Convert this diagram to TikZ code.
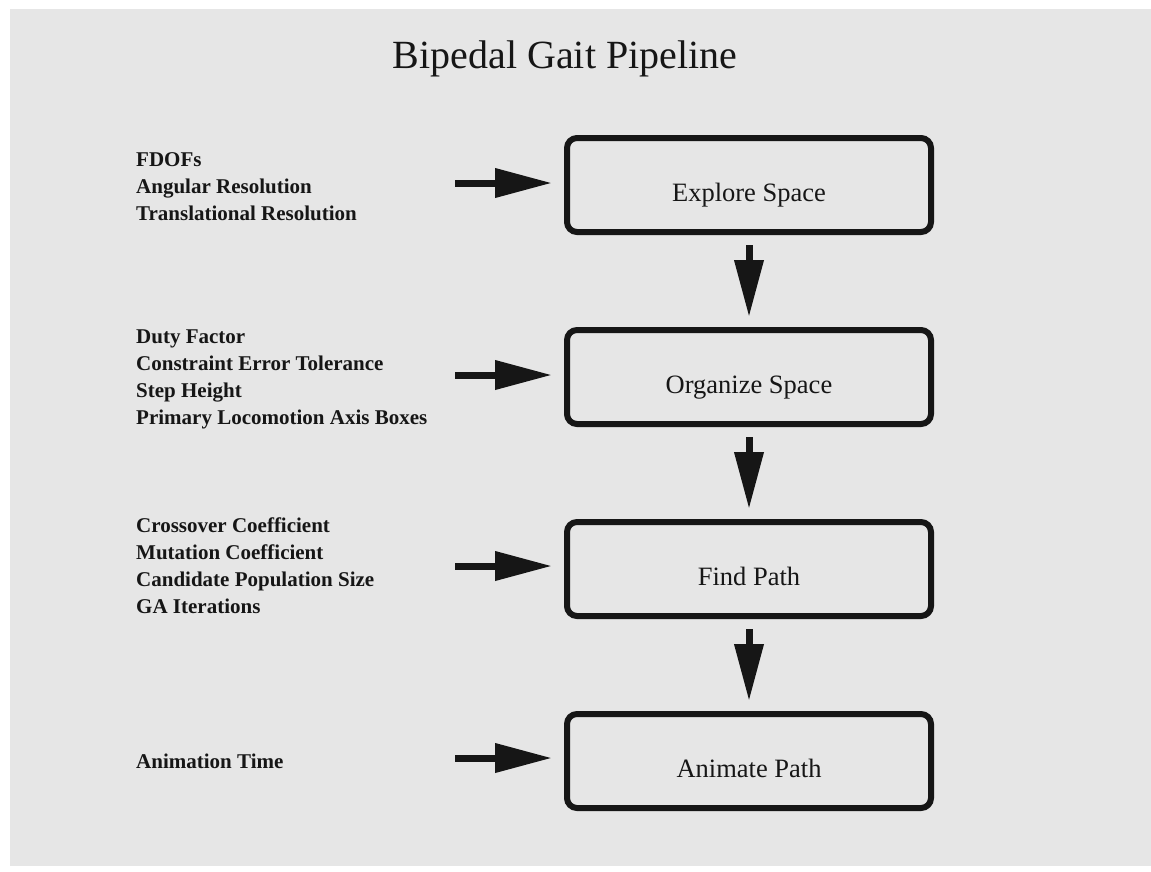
\documentclass[tikz,border=0pt]{standalone}
\usepackage{fontspec}
\setmainfont{Liberation Serif}
\usepackage{xcolor}
\usepackage{tikz}
\usetikzlibrary{arrows.meta,positioning,calc}

\definecolor{paper}{RGB}{230,230,230}
\definecolor{ink}{RGB}{22,22,22}

\begin{document}
\begin{tikzpicture}[x=1pt, y=-1pt,
  stage/.style={draw=ink, line width=6pt, rounded corners=10pt,
    minimum width=364pt, minimum height=94pt, inner sep=0pt,
    text=ink, font=\fontsize{26.5}{30}\selectfont,
    text height=33pt, text depth=0pt},
  params/.style={anchor=west, align=left, inner sep=0pt, text=ink,
    font=\fontsize{21}{27}\selectfont\bfseries},
  feed/.style={draw=ink, line width=7pt, -{Triangle[length=57pt,width=28pt]}}]

\useasboundingbox (0,0) rectangle (1151,871);
% Paper
\fill[paper] (10,9) rectangle (1151,866);

% Title
\node[anchor=base, text=ink, font=\fontsize{40}{44}\selectfont] (title) at (565,68) {Bipedal Gait Pipeline};

% Pipeline stages
\node[stage] (explore) at (749,185) {Explore Space};
\node[stage] (organize) at (749,377) {Organize Space};
\node[stage] (findpath) at (749,569) {Find Path};
\node[stage] (animate) at (749,761) {Animate Path};

% Stage to stage
\draw[feed, shorten <=10pt, shorten >=10pt] (explore) -- (organize);
\draw[feed, shorten <=10pt, shorten >=10pt] (organize) -- (findpath);
\draw[feed, shorten <=10pt, shorten >=10pt] (findpath) -- (animate);

% Parameters for each stage
\node[params] (exploreparams) at (136,187) {FDOFs\\Angular Resolution\\Translational Resolution};
\node[params] (organizeparams) at (136,379) {Duty Factor\\Constraint Error Tolerance\\Step Height\\Primary Locomotion Axis Boxes};
\node[params] (findparams) at (136,566) {Crossover Coefficient\\Mutation Coefficient\\Candidate Population Size\\GA Iterations};
\node[params] (animateparams) at (136,761) {Animation Time};

% Parameter arrows
\coordinate (exploretail) at (455,183);
\coordinate (organizetail) at (455,375);
\coordinate (findtail) at (455,566);
\coordinate (animatetail) at (455,758);
\draw[feed, shorten >=12pt] (exploretail) -- (exploretail -| explore.west);
\draw[feed, shorten >=12pt] (organizetail) -- (organizetail -| organize.west);
\draw[feed, shorten >=12pt] (findtail) -- (findtail -| findpath.west);
\draw[feed, shorten >=12pt] (animatetail) -- (animatetail -| animate.west);
\end{tikzpicture}
\end{document}
